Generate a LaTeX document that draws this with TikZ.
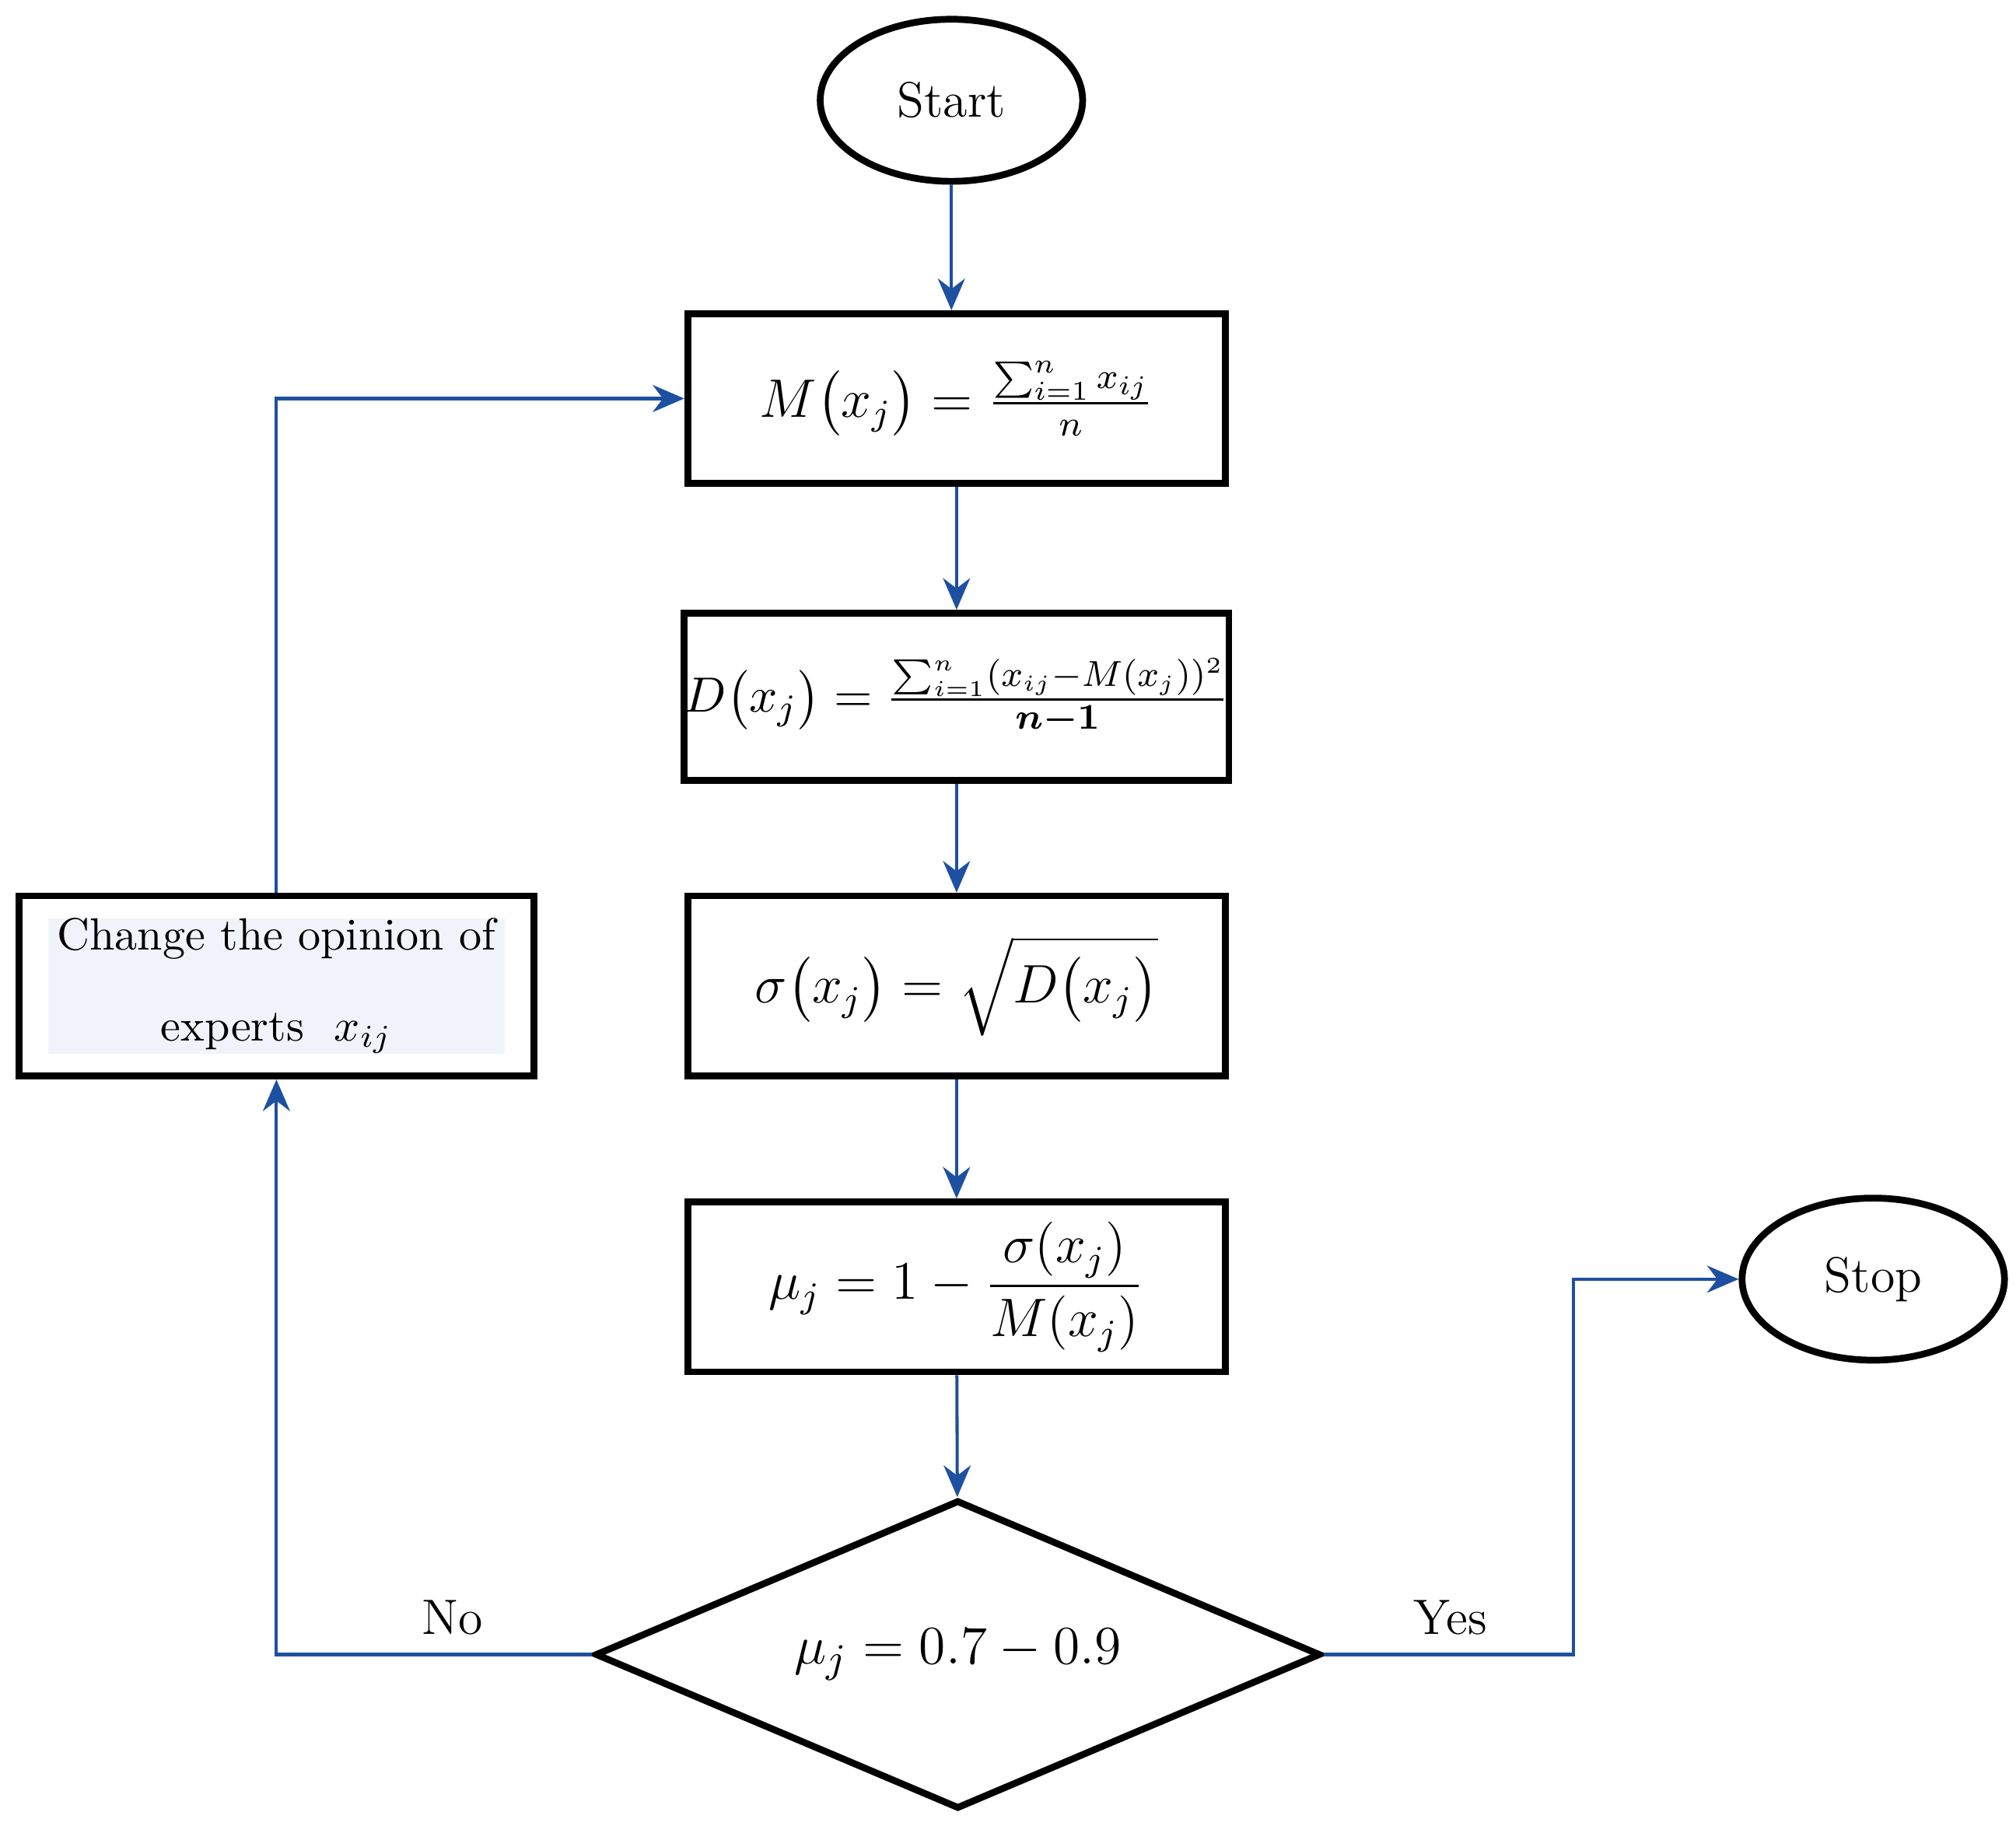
\documentclass[tikz,border=0pt]{standalone}
\usepackage{amsmath}
\usetikzlibrary{shapes.geometric,arrows.meta}
\definecolor{arr}{RGB}{30,80,160}
\definecolor{pale}{RGB}{240,244,250}
\begin{document}
\begin{tikzpicture}[x=0.01cm,y=-0.01cm,
  box/.style={draw,line width=1.5pt,minimum width=4.18cm,minimum height=1.32cm,inner sep=0pt,font=\fontsize{12}{14}\selectfont},
  oval/.style={draw,ellipse,line width=1.5pt,minimum width=2.04cm,minimum height=1.26cm,font=\fontsize{11}{13}\selectfont},
  ar/.style={draw=arr,line width=0.7pt,-{Stealth[length=7pt,width=6pt]}},
  lab/.style={font=\fontsize{11}{13}\selectfont}]
\useasboundingbox (0,0) rectangle (1568,1420);
\node[oval] (start) at (740,78) {Start};
\node[box] (b1) at (744,310) {$M\big(x_j\big)=\frac{\sum_{i=1}^{n}x_{ij}}{n}$};
\node[box,minimum height=1.30cm,font=\fontsize{11}{13}\selectfont] (b2) at (744,542) {$D\big(x_j\big)=\frac{\sum_{i=1}^{n}(x_{ij}-M(x_j))^2}{\boldsymbol{n-1}}$};
\node[box,minimum height=1.40cm] (b3) at (744,767) {$\sigma\big(x_j\big)=\sqrt{D\big(x_j\big)}$};
\node[box] (b4) at (744,1001) {$\mu_j=1-\dfrac{\sigma(x_j)}{M(x_j)}$};
\node[draw,diamond,line width=1.5pt,aspect=2.35,minimum width=5.64cm,minimum height=2.4cm,inner sep=0pt,font=\fontsize{13}{15}\selectfont] (d) at (745,1287) {$\mu_j=0.7-0.9$};
\node[oval] (stop) at (1457,995) {Stop};
\node[draw,line width=1.5pt,minimum width=4.0cm,minimum height=1.40cm] (ch) at (215,767) {};
\node[fill=pale,minimum width=3.55cm,minimum height=1.0cm,inner sep=0pt,text width=3.5cm,align=center,font=\fontsize{10}{20}\selectfont] (cht) at (215,767) {Change the opinion of\\experts\ \ $\large x_{ij}$};
\draw[ar] (start) -- (start|-b1.north);
\draw[ar] (b1) -- (b2);
\draw[ar] (b2) -- (b3);
\draw[ar] (b3) -- (b4);
\draw[ar] (b4) -- (d);
\draw[ar] (d.west) -| (ch.south);
\draw[ar] (ch.north) |- (b1.west);
\draw[ar] (d.east) -- (1224,1287) |- (stop.west);
\node[lab] (no) at (352,1258) {No};
\node[lab] (yes) at (1128,1258) {Yes};
\end{tikzpicture}
\end{document}
